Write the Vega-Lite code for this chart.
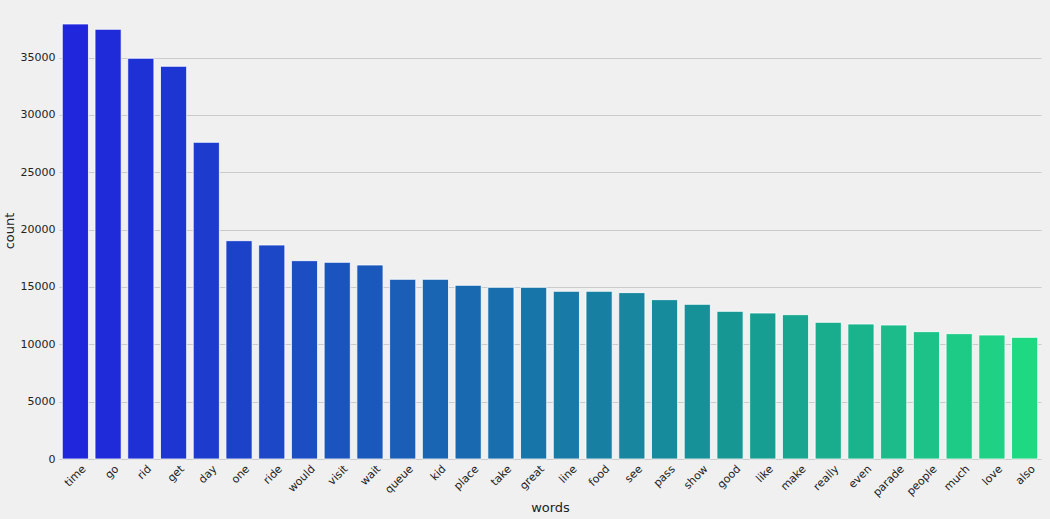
{
  "$schema": "https://vega.github.io/schema/vega-lite/v6.json",
  "width": 982,
  "height": 457,
  "autosize": {"type": "none"},
  "padding": {"left": 59, "top": 2, "right": 9, "bottom": 60},
  "background": "#f0f0f0",
  "config": {
    "view": {"stroke": null, "fill": "#f0f0f0"},
    "font": "DejaVu Sans"
  },
  "data": {
    "values": [
      {"words": "time", "count": 37925},
      {"words": "go", "count": 37463},
      {"words": "rid", "count": 34935},
      {"words": "get", "count": 34237},
      {"words": "day", "count": 27610},
      {"words": "one", "count": 19033},
      {"words": "ride", "count": 18657},
      {"words": "would", "count": 17290},
      {"words": "visit", "count": 17148},
      {"words": "wait", "count": 16914},
      {"words": "queue", "count": 15665},
      {"words": "kid", "count": 15665},
      {"words": "place", "count": 15142},
      {"words": "take", "count": 14968},
      {"words": "great", "count": 14968},
      {"words": "line", "count": 14620},
      {"words": "food", "count": 14620},
      {"words": "see", "count": 14503},
      {"words": "pass", "count": 13891},
      {"words": "show", "count": 13484},
      {"words": "good", "count": 12873},
      {"words": "like", "count": 12729},
      {"words": "make", "count": 12583},
      {"words": "really", "count": 11915},
      {"words": "even", "count": 11770},
      {"words": "parade", "count": 11683},
      {"words": "people", "count": 11102},
      {"words": "much", "count": 10927},
      {"words": "love", "count": 10811},
      {"words": "also", "count": 10608}
    ]
  },
  "mark": {"type": "bar", "stroke": "#ffffff", "strokeWidth": 1, "strokeOpacity": 0.8},
  "encoding": {
    "x": {
      "field": "words",
      "type": "nominal",
      "sort": null,
      "scale": {"paddingInner": 0.2, "paddingOuter": 0.1},
      "axis": {
        "title": "words",
        "titleFont": "DejaVu Sans",
        "titleFontSize": 13,
        "titleFontWeight": "normal",
        "titleColor": "#222222",
        "titlePadding": 4,
        "labelAngle": -45,
        "labelAlign": "right",
        "labelBaseline": "middle",
        "labelOffset": 9,
        "labelPadding": 8,
        "labelFontSize": 11,
        "labelColor": "#222222",
        "domain": false,
        "ticks": false,
        "grid": false
      }
    },
    "y": {
      "field": "count",
      "type": "quantitative",
      "scale": {"domain": [0, 39840], "nice": false, "zero": true},
      "axis": {
        "title": "count",
        "titleFont": "DejaVu Sans",
        "titleFontSize": 13,
        "titleFontWeight": "normal",
        "titleColor": "#222222",
        "titlePadding": 4,
        "values": [0, 5000, 10000, 15000, 20000, 25000, 30000, 35000],
        "format": "d",
        "labelFontSize": 11,
        "labelColor": "#222222",
        "labelPadding": 4,
        "domain": false,
        "ticks": false,
        "grid": true,
        "gridColor": "#cbcbcb",
        "gridWidth": 1
      }
    },
    "color": {
      "field": "words",
      "type": "nominal",
      "sort": null,
      "legend": null,
      "scale": {
        "range": ["#1f26dc", "#1f2bd8", "#1e31d4", "#1e36d1", "#1d3ccd", "#1d42ca", "#1c47c6", "#1c4dc2", "#1b53bf", "#1b58bb", "#1a5eb8", "#1a64b4", "#1969b0", "#196fad", "#1875a9", "#187aa6", "#1780a2", "#17869e", "#168b9b", "#169197", "#169794", "#179e92", "#18a690", "#19ad8e", "#1ab48c", "#1bbb8a", "#1cc288", "#1dca86", "#1ed184", "#1fd882"]
      }
    }
  }
}
